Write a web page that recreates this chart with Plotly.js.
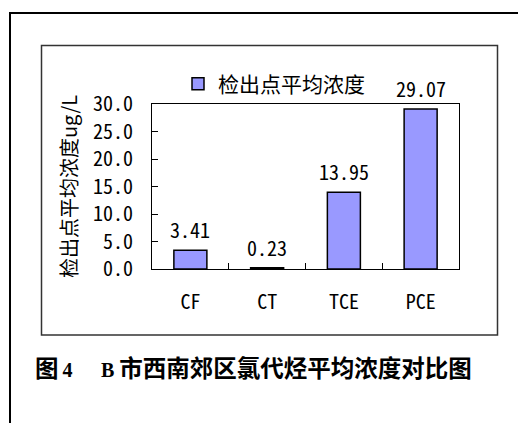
<!DOCTYPE html>
<html>
<head>
<meta charset="utf-8">
<script src="https://cdn.plot.ly/plotly-3.0.1.min.js"></script>
<style>html,body{margin:0;padding:0;background:#fff;}#chart{width:518px;height:423px;}</style>
</head>
<body>
<div id="chart"></div>
<script>
// ---- data ----
const categories = ["CF", "CT", "TCE", "PCE"];
const meanConc = [3.41, 0.23, 13.95, 29.07];
const seriesName = "检出点平均浓度";
const yTickVals = [0, 5, 10, 15, 20, 25, 30];
const yTickText = ["0.0", "5.0", "10.0", "15.0", "20.0", "25.0", "30.0"];
const yTitle = "检出点平均浓度ug/L";
const captionParts = ["图", "4", "B", "市西南郊区氯代烃平均浓度对比图"];

// ---- layout geometry (pixels) ----
const W = 518, H = 423;
const M = {l: 152, r: 59, t: 104, b: 154};
const PW = W - M.l - M.r, PH = H - M.t - M.b;
const px = x => (x - M.l) / PW;
const py = y => (H - M.b - y) / PH;

const monoFont = "'Noto Sans Mono CJK SC', 'Liberation Mono', monospace";
const cjkFont = "'Noto Sans CJK SC', sans-serif";
const latin = s => "<span style=\"font-family:'Liberation Serif';font-size:20px\">" + s + "</span>";
const NB = "\u00A0";
const captionText = captionParts[0] + latin("\u2009" + captionParts[1]) + "　" +
  latin(NB + captionParts[2] + NB) + captionParts[3];

const trace = {
  type: "bar",
  x: categories,
  y: meanConc,
  name: seriesName,
  marker: {color: "#9999FF", line: {color: "#000", width: 1.5}},
  showlegend: true,
  hoverinfo: "skip"
};

const valueLabels = categories.map((c, i) => ({
  x: c, y: meanConc[i], xref: "x", yref: "y",
  text: meanConc[i].toFixed(2), showarrow: false,
  yanchor: "bottom", yshift: 4,
  font: {family: monoFont, size: 20, color: "#000"}
}));

const layout = {
  width: W, height: H,
  margin: M,
  paper_bgcolor: "#fff", plot_bgcolor: "#fff",
  bargap: 0.57,
  showlegend: true,
  legend: {
    orientation: "h", x: px(178), xanchor: "left", y: py(84), yanchor: "middle",
    font: {family: cjkFont, size: 21, color: "#000"},
    bgcolor: "rgba(0,0,0,0)"
  },
  xaxis: {
    type: "category", range: [-0.5, 3.5],
    showline: true, mirror: true, linecolor: "#000", linewidth: 1,
    ticks: "inside", ticklen: 6, tickcolor: "#000", tickson: "boundaries",
    tickfont: {family: monoFont, size: 20, color: "#000"},
    ticklabelstandoff: 15, showgrid: false, zeroline: false, fixedrange: true
  },
  yaxis: {
    range: [0, 30], tickvals: yTickVals, ticktext: yTickText,
    showline: true, mirror: true, linecolor: "#000", linewidth: 1,
    ticks: "inside", ticklen: 6, tickcolor: "#000",
    tickfont: {family: monoFont, size: 20, color: "#000"},
    ticklabelstandoff: 14, showgrid: false, zeroline: false, fixedrange: true,
    title: {text: yTitle, font: {family: cjkFont, size: 20, color: "#000"}, standoff: 10}
  },
  annotations: valueLabels.concat([{
    xref: "paper", yref: "paper", x: px(33), y: py(367),
    xanchor: "left", yanchor: "middle", showarrow: false,
    text: "<b>" + captionText + "</b>",
    font: {family: cjkFont, size: 23.5, color: "#000"}
  }]),
  shapes: [
    {type: "rect", xref: "paper", yref: "paper", x0: px(41.5), x1: px(497.5), y0: py(335), y1: py(45.5),
     line: {color: "#333", width: 1.5}, fillcolor: "rgba(0,0,0,0)", layer: "below"},
    {type: "path", xref: "paper", yref: "paper",
     path: "M " + px(10) + "," + py(440) + " L " + px(10) + "," + py(13) + " L " + px(540) + "," + py(13),
     line: {color: "#000", width: 2}, layer: "below"}
  ]
};

Plotly.newPlot("chart", [trace], layout, {staticPlot: true, displayModeBar: false});
</script>
</body>
</html>
